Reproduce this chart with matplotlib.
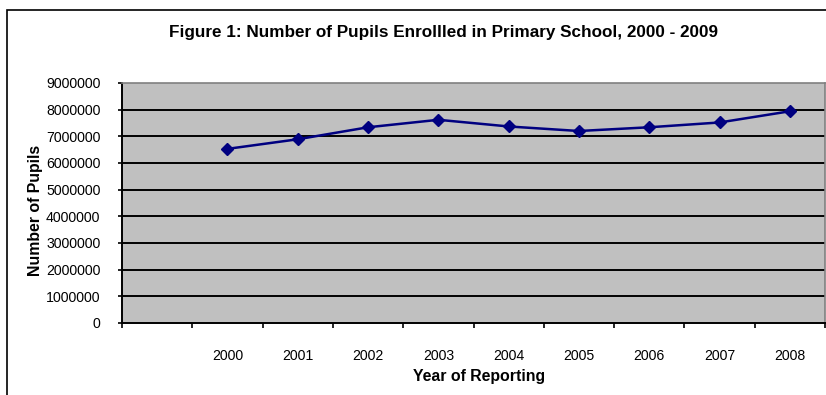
import matplotlib
matplotlib.use("Agg")
import matplotlib.pyplot as plt
from matplotlib.patches import Rectangle
import numpy as np

# Enrolment figures by reporting year
years = ['2000', '2001', '2002', '2003', '2004', '2005', '2006', '2007', '2008']
pupils = [6530000, 6890000, 7340000, 7620000, 7370000, 7200000, 7340000, 7520000, 7940000]
# Category axis: an empty leading slot followed by the reporting years
categories = [''] + years
y_ticks = [0, 1000000, 2000000, 3000000, 4000000, 5000000, 6000000, 7000000, 8000000, 9000000]

title = 'Figure 1: Number of Pupils Enrollled in Primary School, 2000 - 2009'
x_label = 'Year of Reporting'
y_label = 'Number of Pupils'

plt.rcParams['font.family'] = ['Liberation Sans', 'DejaVu Sans']

W, H = 826, 395
fig = plt.figure(figsize=(W / 100, H / 100), dpi=100)
fig.patch.set_facecolor('white')

# Outer chart frame
fig.patches.append(Rectangle((7 / W, -0.1), 1.2, 1 - 10 / H + 0.1,
                             transform=fig.transFigure, fill=False,
                             edgecolor='black', linewidth=1.2, zorder=0))

left, right, top, bottom = 122, 825, 83, 323
ax = fig.add_axes([left / W, 1 - bottom / H, (right - left) / W, (bottom - top) / H])
ax.set_facecolor('#C0C0C0')

n = len(categories)
ax.set_xlim(0, n)
ax.set_ylim(0, 9000000)

# Horizontal gridlines
for v in y_ticks[1:-1]:
    ax.axhline(v, color='black', linewidth=1.4, zorder=1)

xpos = [categories.index(y) + 0.5 for y in years]
ax.plot(xpos, pupils, color='#000080', linewidth=1.8, marker='D',
        markersize=6, markerfacecolor='#000080', markeredgecolor='#000080', zorder=3)

# Category boundaries carry the tick marks, labels sit at centres
ax.set_xticks(np.arange(n + 1))
ax.set_xticklabels([])
ax.set_xticks(np.arange(n) + 0.5, minor=True)
ax.set_xticklabels(categories, minor=True, fontsize=10.2)
ax.tick_params(axis='x', which='major', direction='out', length=3.5, width=1.2, color='black')
ax.tick_params(axis='x', which='minor', length=0, pad=19)

ax.set_yticks(y_ticks)
ax.set_yticklabels([str(v) for v in y_ticks], fontsize=10.2)
ax.tick_params(axis='y', direction='out', length=3, width=1.2, color='black', pad=12.5)

for s in ('left', 'bottom'):
    ax.spines[s].set_color('black')
    ax.spines[s].set_linewidth(1.4)
for s in ('top', 'right'):
    ax.spines[s].set_color('#808080')
    ax.spines[s].set_linewidth(1.2)

fig.text(443 / W, 1 - 33 / H, title, ha='center', va='center',
         fontsize=12.3, fontweight='bold')
fig.text(479 / W, 1 - 377 / H, x_label, ha='center', va='center',
         fontsize=11.4, fontweight='bold')
fig.text(36 / W, 1 - 210 / H, y_label, ha='center', va='center',
         rotation=90, fontsize=11.4, fontweight='bold')

fig.savefig('out.png', dpi=100, facecolor='white')
